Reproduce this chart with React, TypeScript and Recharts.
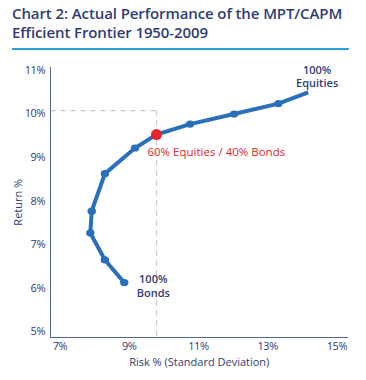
import { Line, LineChart, ReferenceDot, ReferenceLine, XAxis, YAxis } from 'recharts'

// equity share of each portfolio, 0% = all bonds, 100% = all equities
const equityShare = [0, 10, 20, 30, 40, 50, 60, 70, 80, 90, 100]
const riskPct = [8.86, 8.3, 7.88, 7.92, 8.3, 9.17, 9.79, 10.76, 12.03, 13.31, 14.17]
const returnPct = [6.05, 6.57, 7.19, 7.69, 8.55, 9.14, 9.45, 9.69, 9.92, 10.16, 10.42]

const xTicks = [7, 9, 11, 13, 15]
const yTicks = [5, 6, 7, 8, 9, 10, 11]

const highlightShare = 60
const refReturn = 10

const NAVY = '#2f3c74'
const BLUE = '#2a6fba'
const RED = '#e5262b'
const FONT = "'Open Sans', 'DejaVu Sans', sans-serif"

const data = equityShare.map((share, i) => ({ share, risk: riskPct[i], ret: returnPct[i] }))
const highlight = data.find((d) => d.share === highlightShare)!

const FrontierDot = (props: any) => {
  const { cx, cy, index } = props
  if (index === data.length - 1) return null
  if (data[index].share === highlightShare) return <circle key={index} cx={cx} cy={cy} r={5.5} fill={RED} />
  return <ellipse key={index} cx={cx} cy={cy} rx={4.2} ry={3.6} fill={BLUE} />
}

const YTick = ({ x, y, payload }: any) => (
  <text x={x + 2.5} y={y + 4} textAnchor="end" dominantBaseline="middle" fill={NAVY} fontSize={11} fontFamily={FONT} letterSpacing={-0.5}>
    {payload.value}%
  </text>
)

const XTick = ({ x, y, payload }: any) => (
  <text x={x} y={y + 2} textAnchor="middle" dominantBaseline="middle" fill={NAVY} fontSize={11} fontFamily={FONT} letterSpacing={-0.5}>
    {payload.value}%
  </text>
)

const YTitle = ({ viewBox }: any) => {
  const cx = 19
  const cy = viewBox.y + viewBox.height / 2
  return (
    <text x={cx} y={cy} transform={`rotate(-90 ${cx} ${cy})`} textAnchor="middle" dominantBaseline="middle" fill={NAVY} fontSize={11} fontFamily={FONT}>
      Return %
    </text>
  )
}

const XTitle = ({ viewBox }: any) => (
  <text x={viewBox.x + viewBox.width / 2} y={363} textAnchor="middle" dominantBaseline="middle" fill={NAVY} fontSize={11} fontFamily={FONT}>
    Risk % (Standard Deviation)
  </text>
)

const TwoLineLabel = (lines: string[], dx: number, dy: number) => (props: any) => {
  const { viewBox } = props
  const x = viewBox.x + dx
  const y = viewBox.y + dy
  return (
    <text x={x} y={y} textAnchor="middle" fill={NAVY} fontSize={11} fontWeight={600} fontFamily={FONT}>
      {lines.map((l, i) => (
        <tspan key={l} x={x} y={y + i * 13.5} dominantBaseline="middle">
          {l}
        </tspan>
      ))}
    </text>
  )
}

const last = data[data.length - 1]
const first = data[0]

export default function App() {
  return (
    <div style={{ position: 'absolute', left: 0, top: 0, width: 366, height: 380, background: '#fff' }}>
      <div
        style={{
          position: 'absolute',
          left: 12,
          top: 4,
          width: 345,
          fontFamily: FONT,
          fontSize: 15,
          fontWeight: 600,
          lineHeight: '19px',
          color: NAVY,
          letterSpacing: -0.1,
        }}
      >
        Chart 2: Actual Performance of the MPT/CAPM
        <br />
        Efficient Frontier 1950-2009
      </div>
      <div style={{ position: 'absolute', left: 12, top: 48, width: 337, height: 2, background: '#29a3dc' }} />
      <div style={{ position: 'absolute', left: 0, top: 0 }}>
        <LineChart width={366} height={380} data={data} margin={{ top: 67, right: 18, bottom: 12.5, left: 10.5 }}>
          <XAxis
            type="number"
            dataKey="risk"
            domain={[6.73, 15.32]}
            ticks={xTicks}
            tickLine={false}
            stroke="#56649a"
            height={30}
            tick={<XTick />}
            label={<XTitle />}
          />
          <YAxis
            type="number"
            dataKey="ret"
            domain={[4.79, 11]}
            ticks={yTicks}
            tickLine={false}
            stroke="#56649a"
            width={40}
            tick={<YTick />}
            label={<YTitle />}
          />
          <ReferenceLine
            segment={[
              { x: 6.73, y: refReturn },
              { x: highlight.risk, y: refReturn },
            ]}
            stroke="#c8c8c8"
            strokeWidth={1.2}
            strokeDasharray="5 5"
          />
          <ReferenceLine
            segment={[
              { x: highlight.risk, y: refReturn },
              { x: highlight.risk, y: 4.79 },
            ]}
            stroke="#c8c8c8"
            strokeWidth={1.2}
            strokeDasharray="5 5"
          />
          <Line
            type="linear"
            dataKey="ret"
            stroke={BLUE}
            strokeWidth={4}
            dot={<FrontierDot />}
            activeDot={false}
            isAnimationActive={false}
          />
          <ReferenceDot x={last.risk} y={last.ret} r={0} label={TwoLineLabel(['100%', 'Equities'], 9, -21.5)} />
          <ReferenceDot x={first.risk} y={first.ret} r={0} label={TwoLineLabel(['100%', 'Bonds'], 29, -2.5)} />
          <ReferenceDot
            x={highlight.risk}
            y={highlight.ret}
            r={0}
            label={{ value: '60% Equities / 40% Bonds', position: 'right', dx: -14, dy: 17, fill: RED, fontSize: 11.5, fontFamily: FONT }}
          />
        </LineChart>
      </div>
    </div>
  )
}
